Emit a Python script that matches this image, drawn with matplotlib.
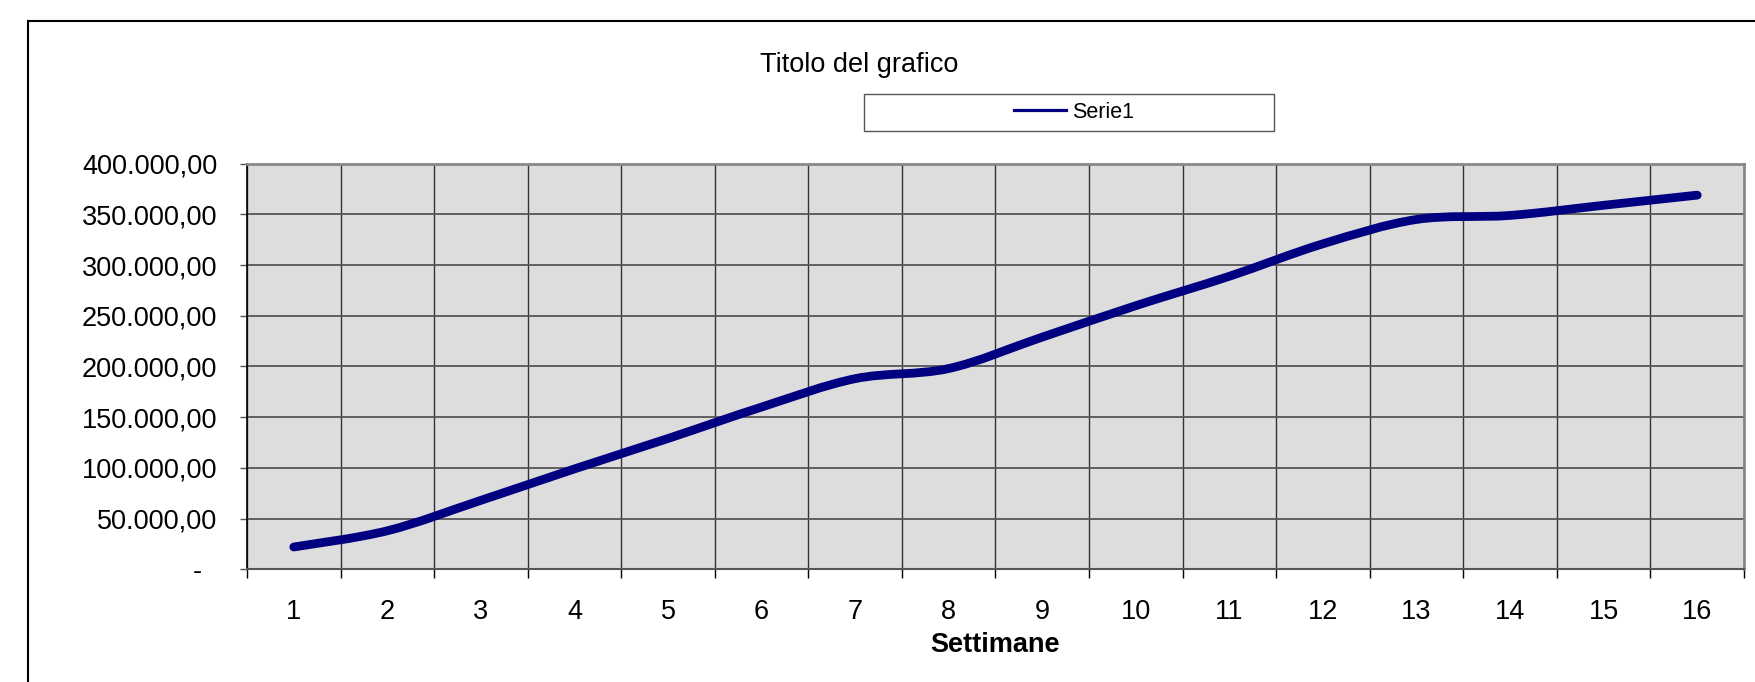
import numpy as np
import matplotlib
matplotlib.use('Agg')
import matplotlib.pyplot as plt
from matplotlib.path import Path
from matplotlib.patches import PathPatch, Rectangle
from matplotlib.lines import Line2D
from matplotlib.ticker import FixedLocator, FuncFormatter

plt.rcParams['font.family'] = ['Liberation Sans', 'DejaVu Sans']

#==============================================================================
# DATA
#==============================================================================

weeks  = list(range(1, 17))
values = [22000, 38000, 68000, 99000, 129000, 160000, 188000, 198000,
          229000, 260000, 289000, 321000, 345000, 349000, 359000, 369000]
series_name = 'Serie1'
title  = 'Titolo del grafico'
xlabel = 'Settimane'
yticks = [0, 50000, 100000, 150000, 200000, 250000, 300000, 350000, 400000]

W, H = 1756, 682
FS = 19.5
NAVY = '#000080'

def fmt_it(v, pos=None):
    if v == 0:
        return '-  '
    s = f'{v:,.2f}'
    return s.replace(',', 'X').replace('.', ',').replace('X', '.')

def smooth_path(xs, ys):
    # Excel-like smoothed line: cubic Bezier through each point (Catmull-Rom)
    pts = np.column_stack([xs, ys]).astype(float)
    ext = np.vstack([pts[0], pts, pts[-1]])
    verts = [pts[0]]
    codes = [Path.MOVETO]
    for i in range(len(pts) - 1):
        p0, p1, p2, p3 = ext[i], ext[i + 1], ext[i + 2], ext[i + 3]
        verts += [p1 + (p2 - p0) / 6, p2 - (p3 - p1) / 6, p2]
        codes += [Path.CURVE4] * 3
    return Path(verts, codes)

#==============================================================================
# FIGURE
#==============================================================================

fig = plt.figure(figsize=(W / 100, H / 100), dpi=100)
fig.patch.set_facecolor('white')

# outer chart frame (clipped on the right and bottom)
fig.add_artist(Line2D([27.5 / W, 27.5 / W], [0, 1 - 20.5 / H], color='black', lw=1.5))
fig.add_artist(Line2D([27.5 / W, 1], [1 - 20.5 / H, 1 - 20.5 / H], color='black', lw=1.5))

left, right = 247 / W, 1744 / W
top, bottom = 1 - 163.7 / H, 1 - 569.3 / H
ax = fig.add_axes([left, bottom, right - left, top - bottom])
ax.set_facecolor('#DDDDDD')

patch = PathPatch(smooth_path(weeks, values), fill=False, edgecolor=NAVY,
                  lw=6.3, capstyle='round', joinstyle='round', zorder=5)
ax.add_patch(patch)

ax.set_xlim(0.5, len(weeks) + 0.5)
ax.set_ylim(yticks[0], yticks[-1])

# categories centred, gridlines / ticks on the boundaries
ax.xaxis.set_major_locator(FixedLocator(weeks))
ax.set_xticklabels([str(w) for w in weeks])
ax.xaxis.set_minor_locator(FixedLocator([w - 0.5 for w in weeks] + [weeks[-1] + 0.5]))
ax.tick_params(axis='x', which='major', length=0, pad=21.5, labelsize=FS)
ax.tick_params(axis='x', which='minor', length=6.5, width=1, color='black', direction='out')
ax.grid(True, axis='x', which='minor', color='#333333', lw=1)

ax.set_yticks(yticks)
ax.yaxis.set_major_formatter(FuncFormatter(fmt_it))
ax.tick_params(axis='y', length=5, width=1, pad=16.5, labelsize=FS, direction='out', color='#555555')
ax.grid(True, axis='y', which='major', color='#555555', lw=1.3)
ax.set_axisbelow(True)

for side in ['top', 'right']:
    ax.spines[side].set_color('#888888')
    ax.spines[side].set_linewidth(2)
ax.spines['left'].set_color('black')
ax.spines['left'].set_linewidth(1.2)
ax.spines['bottom'].set_color('#555555')
ax.spines['bottom'].set_linewidth(1.5)

ax.set_xlabel(xlabel, fontsize=FS, fontweight='bold', labelpad=5)

# title
fig.text(859 / W, 1 - 65 / H, title, fontsize=FS, ha='center', va='center')

# legend box
fig.add_artist(Rectangle((864.5 / W, 1 - 130.5 / H), 410 / W, 36.5 / H,
                         transform=fig.transFigure, fill=False,
                         edgecolor='#555555', lw=1))
handle = Line2D([], [], color=NAVY, lw=2.3)
fig.legend([handle], [series_name], loc='center', bbox_to_anchor=(1074 / W, 1 - 112.3 / H),
           frameon=False, fontsize=15.5, handlelength=2.4, handletextpad=0.3,
           borderpad=0, borderaxespad=0)

plt.savefig('out.png', dpi=100)
plt.close()
